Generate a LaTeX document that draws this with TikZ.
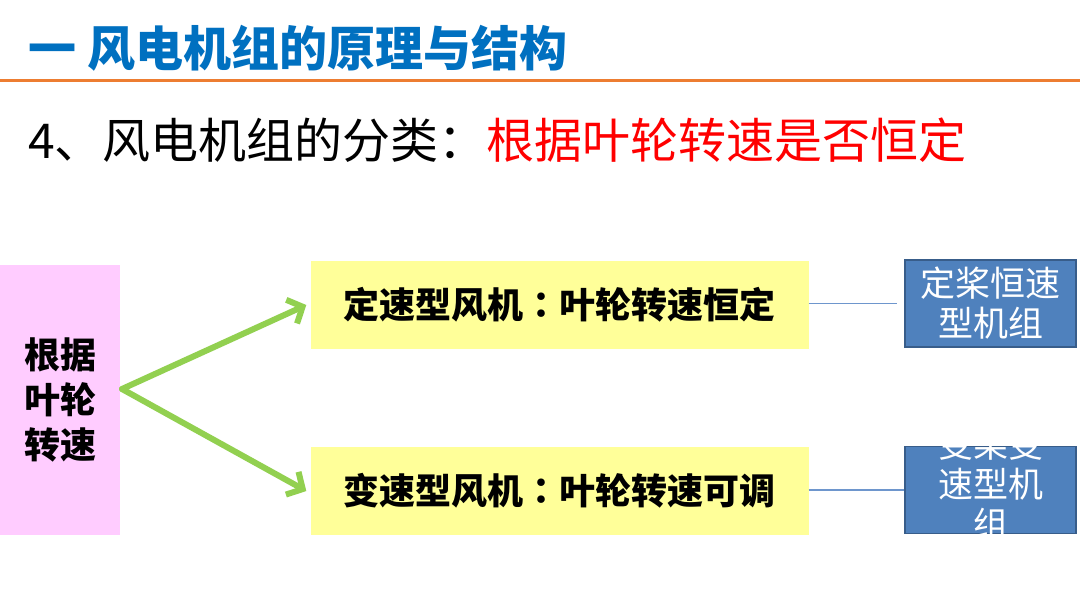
\documentclass[tikz,border=0pt]{standalone}
\usepackage{fontspec}
\setmainfont{Noto Sans CJK SC}
\newfontfamily\tcfont{Noto Sans CJK TC}
\usetikzlibrary{arrows.meta}
\definecolor{TitleBlue}{RGB}{0,112,192}
\definecolor{RuleOrange}{RGB}{237,125,49}
\definecolor{KeyRed}{RGB}{255,0,0}
\definecolor{PinkFill}{RGB}{255,204,255}
\definecolor{YelFill}{RGB}{255,255,153}
\definecolor{ArrGreen}{RGB}{146,208,80}
\definecolor{BoxFill}{RGB}{79,129,189}
\definecolor{BoxLine}{RGB}{56,93,138}
\definecolor{LinkLine}{RGB}{110,150,205}
\tikzset{
  nd_pink/.style={rectangle,fill=PinkFill,minimum width=120pt,minimum height=270pt,inner sep=0pt,align=center,font=\fontsize{36}{45}\selectfont\bfseries},
  nd_yel/.style={rectangle,fill=YelFill,minimum width=498pt,minimum height=88pt,inner sep=0pt,font=\fontsize{36}{44}\selectfont\bfseries},
  nd_blue/.style={rectangle,fill=BoxFill,draw=BoxLine,line width=1.5pt,minimum width=171pt,minimum height=87pt,inner sep=0pt},
  nd_bluetxt/.style={inner sep=0pt,align=center,text=white,font=\fontsize{35}{40}\selectfont},
  arr/.style={-{Straight Barb[length=12pt,width=26pt]},line width=6pt,draw=ArrGreen,line cap=round},
  lnk/.style={draw=LinkLine,line width=1.2pt},
}
\newcommand{\cln}{{\tcfont ：}}
\begin{document}
\begin{tikzpicture}[x=1pt,y=-1pt]
\useasboundingbox[fill=white](0,0) rectangle (1080,608);
% heading
\node[anchor=west,inner sep=0pt,text=TitleBlue,font=\fontsize{48}{52}\selectfont\bfseries] (title) at (28,48) {一 风电机组的原理与结构};
\draw[RuleOrange,line width=3pt](0,80)--(1080,80);
\node[anchor=west,inner sep=0pt,font=\fontsize{48}{52}\selectfont] (sub) at (28,140) {4、风电机组的分类：\textcolor{KeyRed}{根据叶轮转速是否恒定}};
% boxes
\node[nd_pink] at (60,400) (P){根据\\叶轮\\转速};
\node[nd_yel] at (559.5,305) (Y1){定速型风机\cln 叶轮转速恒定};
\node[nd_yel] at (559.5,491) (Y2){变速型风机\cln 叶轮转速可调};
\node[nd_blue] at (990.5,303.5) (B1){};
\node[nd_bluetxt] at (B1.center) (T1){定桨恒速\\型机组};
\node[nd_blue] at (990.5,490) (B2){};
\node[nd_bluetxt] at ([yshift=6pt]B2.center) (T2){变桨变\\速型机\\组};
% arrows
\coordinate (fork) at (122,389);
\draw[arr](fork)--([xshift=-4pt]Y1.west);
\draw[arr](fork)--([xshift=-4pt]Y2.west);
\draw[lnk,shorten >=7pt](Y1.east|-B1.west)--(B1.west);
\draw[lnk](Y2.east|-B2.west)--(B2.west);
\end{tikzpicture}
\end{document}
